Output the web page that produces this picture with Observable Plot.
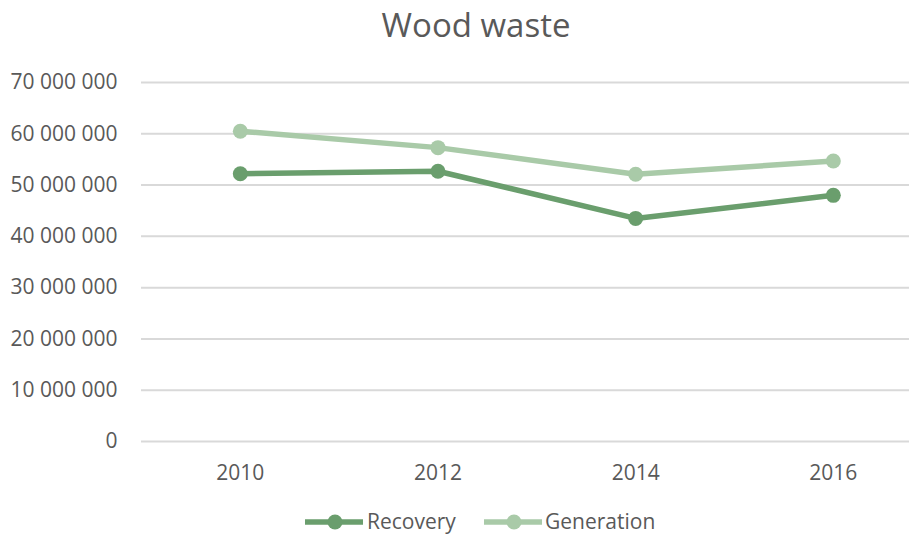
<!DOCTYPE html>
<html>
<head>
<meta charset="utf-8">
<script src="https://cdn.jsdelivr.net/npm/d3@7"></script>
<script src="https://cdn.jsdelivr.net/npm/@observablehq/plot@0.6"></script>
<style>
  html, body { margin: 0; padding: 0; background: #fff; overflow: hidden; }
  body { font-family: "Open Sans", sans-serif; color: #595959; width: 909px; height: 535px; position: relative; }
  #title { width: 952px; height: 52px; padding-top: 3px; text-align: center; font-size: 33px; line-height: 44px; color: #595959; white-space: nowrap; }
  #legend { position: relative; height: 40px; font-size: 21px; line-height: 30px; }
  .item { position: absolute; top: 11px; }
  .sw { position: absolute; top: 0; }
</style>
</head>
<body>
<div id="title">Wood waste</div>
<div id="chart"></div>
<div id="legend"></div>
<script>
const years = [2010, 2012, 2014, 2016];
const recovery = [52200000, 52700000, 43500000, 48000000];
const generation = [60500000, 57300000, 52100000, 54700000];
const seriesNames = ["Recovery", "Generation"];
const seriesColors = ["#6a9e6d", "#a9caa8"];
const yTicks = [0, 10000000, 20000000, 30000000, 40000000, 50000000, 60000000, 70000000];

const data = [
  ...years.map((yr, i) => ({year: yr, value: recovery[i], series: "Recovery"})),
  ...years.map((yr, i) => ({year: yr, value: generation[i], series: "Generation"}))
];

const fmt = d => d3.format(",")(d).replace(/,/g, " ");

const chart = Plot.plot({
  width: 909,
  height: 440,
  marginTop: 27,
  marginBottom: 54,
  marginLeft: 141,
  marginRight: 0,
  style: {fontFamily: "Open Sans, sans-serif", fontSize: "21px", color: "#595959", background: "#fff"},
  x: {type: "linear", domain: [2009, 2009 + 768 / 98.83], ticks: years, tickFormat: d => String(d), tickSize: 0, tickPadding: 24, label: null},
  y: {domain: [0, 70000000], ticks: yTicks, tickFormat: fmt, tickSize: 0, tickPadding: 24, label: null},
  color: {domain: seriesNames, range: seriesColors},
  marks: [
    Plot.ruleY(yTicks, {stroke: "#d9d9d9", strokeWidth: 2}),
    Plot.axisX({ticks: years, tickFormat: d => String(d), tickSize: 0, tickPadding: 24, fill: "#595959"}),
    Plot.axisY({ticks: yTicks, tickFormat: fmt, tickSize: 0, tickPadding: 24, fill: "#595959"}),
    Plot.line(data, {x: "year", y: "value", z: "series", stroke: "series", strokeWidth: 5.5, strokeLinejoin: "round"}),
    Plot.dot(data, {x: "year", y: "value", fill: "series", r: 7.5})
  ]
});
document.getElementById("chart").appendChild(chart);

// Legend
const legend = document.getElementById("legend");
const legendPos = [{sw: 305, txt: 367}, {sw: 484, txt: 545}];
seriesNames.forEach((name, i) => {
  const sw = document.createElementNS("http://www.w3.org/2000/svg", "svg");
  sw.setAttribute("width", 58);
  sw.setAttribute("height", 40);
  sw.setAttribute("class", "sw");
  sw.style.left = legendPos[i].sw + "px";
  sw.innerHTML = `<line x1="1" x2="57" y1="27" y2="27" stroke="${seriesColors[i]}" stroke-width="5.5" stroke-linecap="round"/><circle cx="30" cy="27" r="7.5" fill="${seriesColors[i]}"/>`;
  legend.appendChild(sw);
  const t = document.createElement("div");
  t.className = "item";
  t.style.left = legendPos[i].txt + "px";
  t.textContent = name;
  legend.appendChild(t);
});
</script>
</body>
</html>
